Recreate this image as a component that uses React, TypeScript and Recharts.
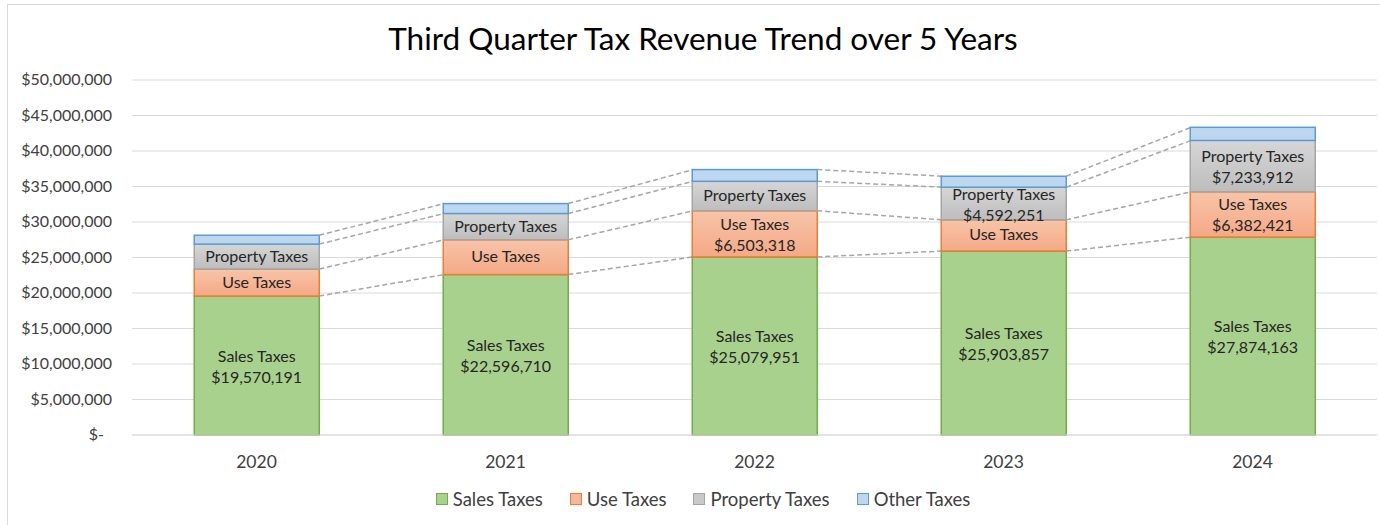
import React from "react";
import {
  BarChart,
  Bar,
  XAxis,
  YAxis,
  CartesianGrid,
  Legend,
  LabelList,
} from "recharts";

const years = ["2020", "2021", "2022", "2023", "2024"];
const salesTaxes = [19570191, 22596710, 25079951, 25903857, 27874163];
const useTaxes = [3800000, 4900000, 6503318, 4400000, 6382421];
const propertyTaxes = [3520000, 3700000, 4150000, 4592251, 7233912];
const otherTaxes = [1250000, 1400000, 1650000, 1550000, 1850000];
const yTicks = [0, 5e6, 10e6, 15e6, 20e6, 25e6, 30e6, 35e6, 40e6, 45e6, 50e6];

// which segments print their dollar value under the name
const showUseValue = [false, false, true, false, true];
const showPropertyValue = [false, false, false, true, true];

const rows = years.map((year, i) => ({
  year,
  sales: salesTaxes[i],
  use: useTaxes[i],
  property: propertyTaxes[i],
  other: otherTaxes[i],
}));

const seriesKeys = ["sales", "use", "property", "other"];
const GAP = 0.25;
const FONT = "Lato, 'Open Sans', sans-serif";

const money = (v: number) => "$" + Math.round(v).toLocaleString("en-US");

const cumTo = (row: any, k: number) =>
  seriesKeys.slice(0, k + 1).reduce((s, key) => s + row[key], 0);

// bar segment plus dashed series line to the next bar
const makeShape = (k: number, fill: string, stroke: string) => (props: any) => {
  const { x, y, width, height, index, payload } = props;
  const key = seriesKeys[k];
  const ppu = height / payload[key];
  let line = null;
  if (index < rows.length - 1) {
    const step = width / (1 - 2 * GAP);
    const ny = y - (cumTo(rows[index + 1], k) - cumTo(payload, k)) * ppu;
    line = (
      <line
        x1={x + width}
        y1={y}
        x2={x + step}
        y2={ny}
        stroke="#a6a6a6"
        strokeWidth={1.5}
        strokeDasharray="5 3"
      />
    );
  }
  return (
    <g>
      <rect
        x={x}
        y={y}
        width={width}
        height={height}
        fill={fill}
        stroke={stroke}
        strokeWidth={1.5}
      />
      {line}
    </g>
  );
};

const makeLabel = (name: string, show: boolean[] | null) => (props: any) => {
  const { x, y, width, height, value, index } = props;
  const cx = x + width / 2;
  const cy = y + height / 2;
  const both = show === null ? true : show[index];
  return (
    <text
      x={cx}
      y={cy}
      textAnchor="middle"
      fontFamily={FONT}
      fontSize={16}
      fill="#262626"
    >
      {both ? (
        <>
          <tspan x={cx} dy={-4}>
            {name}
          </tspan>
          <tspan x={cx} dy={21}>
            {money(value)}
          </tspan>
        </>
      ) : (
        <tspan x={cx} dy={5}>
          {name}
        </tspan>
      )}
    </text>
  );
};

const YTick = (props: any) => {
  const { x, y, payload } = props;
  const v = payload.value;
  return (
    <text
      x={v === 0 ? x - 20 : x - 12}
      y={y + 5}
      textAnchor="end"
      fontFamily={FONT}
      fontSize={16}
      fill="#404040"
    >
      {v === 0 ? "$-" : money(v)}
    </text>
  );
};

const legendItems = [
  { name: "Sales Taxes", fill: "#a9d18e", stroke: "#70ad47" },
  { name: "Use Taxes", fill: "#f6b89a", stroke: "#ed7d31" },
  { name: "Property Taxes", fill: "#c9c9c9", stroke: "#a5a5a5" },
  { name: "Other Taxes", fill: "#bdd7ee", stroke: "#5b9bd5" },
];

const LegendBox = () => (
  <div
    style={{
      display: "flex",
      justifyContent: "center",
      gap: 27,
      fontFamily: FONT,
      fontSize: 18.5,
      color: "#404040",
      paddingTop: 10,
      paddingLeft: 21,
    }}
  >
    {legendItems.map((it) => (
      <div key={it.name} style={{ display: "flex", alignItems: "center" }}>
        <span
          style={{
            width: 10,
            height: 10,
            background: it.fill,
            border: `1.5px solid ${it.stroke}`,
            marginRight: 5,
          }}
        />
        {it.name}
      </div>
    ))}
  </div>
);

export default function App() {
  document.body.style.margin = "0";
  return (
    <div
      style={{
        position: "absolute",
        left: 7,
        top: 4,
        width: 1380,
        height: 525,
        borderLeft: "1.5px solid #d9d9d9",
        borderTop: "1.5px solid #d9d9d9",
        background: "#fff",
        overflow: "hidden",
      }}
    >
      <div
        style={{
          position: "absolute",
          top: 14,
          width: 1390,
          textAlign: "center",
          fontFamily: FONT,
          fontSize: 31.5,
          color: "#000",
        }}
      >
        Third Quarter Tax Revenue Trend over 5 Years
      </div>
      <BarChart
        width={1373}
        height={521}
        data={rows}
        margin={{ top: 75, right: 4, left: 0, bottom: 8 }}
        barCategoryGap={`${GAP * 100}%`}
      >
        <defs>
          <linearGradient id="useGrad" x1="0" y1="0" x2="0" y2="1">
            <stop offset="0%" stopColor="#f8c4a8" />
            <stop offset="100%" stopColor="#f4a987" />
          </linearGradient>
          <linearGradient id="propGrad" x1="0" y1="0" x2="0" y2="1">
            <stop offset="0%" stopColor="#d6d6d6" />
            <stop offset="100%" stopColor="#bdbdbd" />
          </linearGradient>
        </defs>
        <CartesianGrid vertical={false} stroke="#d9d9d9" />
        <XAxis
          dataKey="year"
          axisLine={{ stroke: "#d9d9d9" }}
          tickLine={false}
          height={43}
          tickMargin={15}
          tick={{ fontFamily: FONT, fontSize: 17.5, fill: "#404040" }}
        />
        <YAxis
          width={124}
          domain={[0, 50e6]}
          ticks={yTicks}
          axisLine={false}
          tickLine={false}
          tick={<YTick />}
        />
        <Legend verticalAlign="bottom" height={40} content={<LegendBox />} />
        <Bar
          dataKey="sales"
          name="Sales Taxes"
          stackId="t"
          isAnimationActive={false}
          shape={makeShape(0, "#a9d18e", "#70ad47")}
        >
          <LabelList dataKey="sales" content={makeLabel("Sales Taxes", null)} />
        </Bar>
        <Bar
          dataKey="use"
          name="Use Taxes"
          stackId="t"
          isAnimationActive={false}
          shape={makeShape(1, "url(#useGrad)", "#ed7d31")}
        >
          <LabelList dataKey="use" content={makeLabel("Use Taxes", showUseValue)} />
        </Bar>
        <Bar
          dataKey="property"
          name="Property Taxes"
          stackId="t"
          isAnimationActive={false}
          shape={makeShape(2, "url(#propGrad)", "#a5a5a5")}
        >
          <LabelList
            dataKey="property"
            content={makeLabel("Property Taxes", showPropertyValue)}
          />
        </Bar>
        <Bar
          dataKey="other"
          name="Other Taxes"
          stackId="t"
          isAnimationActive={false}
          shape={makeShape(3, "#bdd7ee", "#5b9bd5")}
        />
      </BarChart>
    </div>
  );
}
